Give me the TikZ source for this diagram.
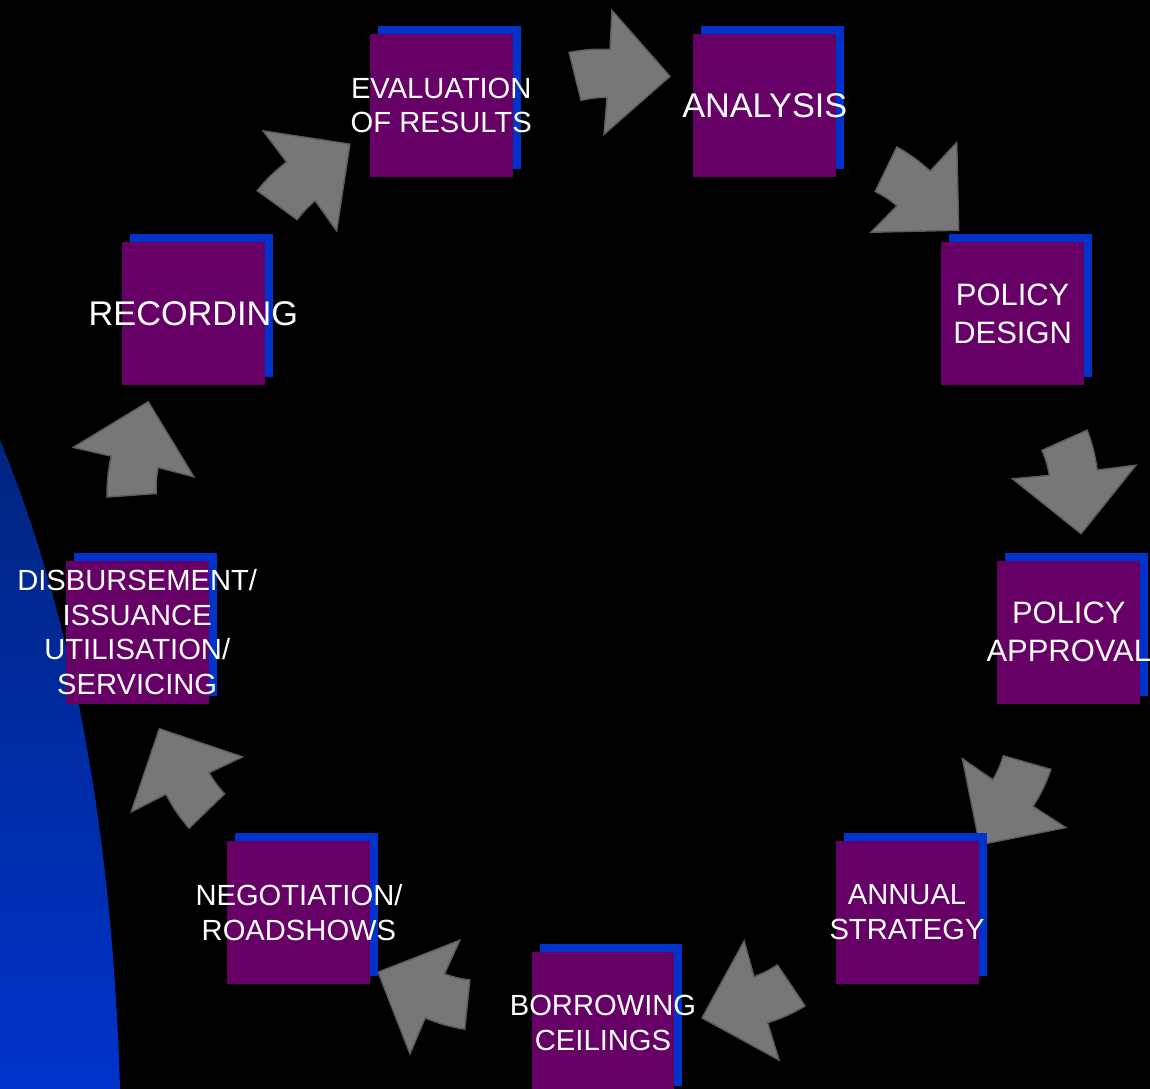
\documentclass[tikz,border=0pt]{standalone}
\usepackage{fontspec}
\setmainfont{Liberation Sans}
\usetikzlibrary{calc, shadows}
\definecolor{StagePurple}{HTML}{660066}
\definecolor{StageBlue}{HTML}{0033CC}
\definecolor{ArrowGrey}{HTML}{777777}
\definecolor{ArrowEdge}{HTML}{5C5C5C}
\definecolor{SwooshTop}{HTML}{00257F}
\definecolor{SwooshBottom}{HTML}{0033CC}

\begin{document}
\begin{tikzpicture}[x=0.02cm, y=0.02cm]
    \tikzstyle{stage} = [rectangle, fill=StagePurple, minimum size=2.86cm, inner sep=0pt, general shadow={fill=StageBlue, shadow xshift=0.16cm, shadow yshift=0.16cm}]
    \tikzstyle{stagetext} = [text=white, align=center, inner sep=0pt, font=\fontsize{16.6}{19.8}\selectfont]
    \tikzstyle{bigtext} = [stagetext, font=\fontsize{19.5}{23}\selectfont]
    \tikzstyle{midtext} = [stagetext, font=\fontsize{17.6}{21.5}\selectfont]
    \tikzset{ringarrow/.pic={
        \filldraw[fill=ArrowGrey, draw=ArrowEdge, line width=0.8pt] (-53,24) to[bend left=6] (-12,27) -- (-10,66) -- (48,0) -- (-18,-58) -- (-15,-21) to[bend right=6] (-41,-24) -- cycle;
    }}

    \fill[black] (0,0) rectangle (1150,1089);
    \useasboundingbox (0,0) rectangle (1150,1089);
    \shade[top color=SwooshTop, bottom color=SwooshBottom] (0,649) .. controls (70,479) and (112,269) .. (120,0) -- (0,0) -- cycle;

    \coordinate (ring) at (603,539);

    \pic[rotate=0] at ($(ring)+(87.7:474)$) {ringarrow};
    \pic[rotate=-40] at ($(ring)+(47.7:474)$) {ringarrow};
    \pic[rotate=-80] at ($(ring)+(7.7:474)$) {ringarrow};
    \pic[rotate=-120] at ($(ring)+(-32.3:474)$) {ringarrow};
    \pic[rotate=-160] at ($(ring)+(-72.3:474)$) {ringarrow};
    \pic[rotate=-200] at ($(ring)+(-112.3:474)$) {ringarrow};
    \pic[rotate=-240] at ($(ring)+(-152.3:474)$) {ringarrow};
    \pic[rotate=-280] at ($(ring)+(-192.3:474)$) {ringarrow};
    \pic[rotate=-320] at ($(ring)+(-232.3:474)$) {ringarrow};

    \node [stage] (evaluation) at ($(ring)+(110:473)$) {};
    \node [stage] (analysis) at ($(ring)+(70:473)$) {};
    \node [stage] (design) at ($(ring)+(30:473)$) {};
    \node [stage] (approval) at ($(ring)+(-10:473)$) {};
    \node [stage] (strategy) at ($(ring)+(-50:473)$) {};
    \node [stage] (ceilings) at ($(ring)+(-90:473)$) {};
    \node [stage] (negotiation) at ($(ring)+(-130:473)$) {};
    \node [stage] (disbursement) at ($(ring)+(-170:473)$) {};
    \node [stage] (recording) at ($(ring)+(150:473)$) {};

    \node [stagetext] (evaluation-t) at (evaluation) {EVALUATION\\OF RESULTS};
    \node [bigtext] (analysis-t) at (analysis) {ANALYSIS};
    \node [midtext] (design-t) at (design) {POLICY\\DESIGN};
    \node [midtext] (approval-t) at (approval) {POLICY\\APPROVAL};
    \node [stagetext] (strategy-t) at (strategy) {ANNUAL\\STRATEGY};
    \node [stagetext] (ceilings-t) at (ceilings) {BORROWING\\CEILINGS};
    \node [stagetext] (negotiation-t) at (negotiation) {NEGOTIATION/\\ROADSHOWS};
    \node [stagetext] (disbursement-t) at (disbursement) {DISBURSEMENT/\\ISSUANCE\\UTILISATION/\\SERVICING};
    \node [bigtext] (recording-t) at (recording) {RECORDING};
\end{tikzpicture}
\end{document}
